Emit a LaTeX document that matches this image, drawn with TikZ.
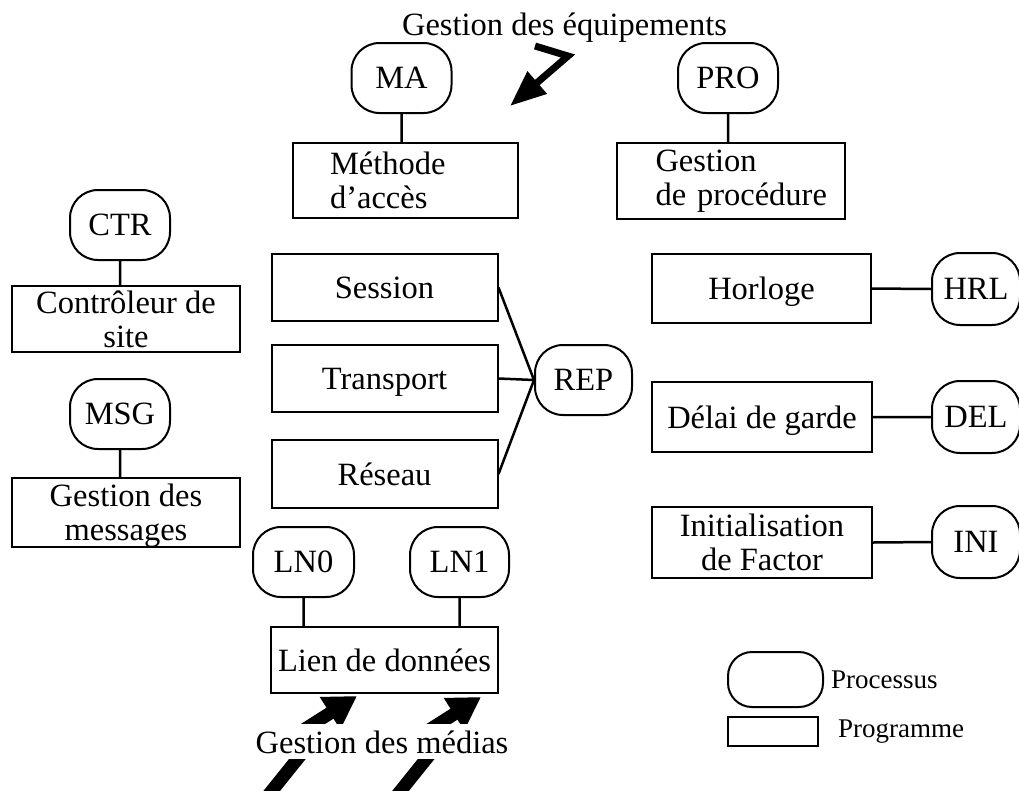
\documentclass[tikz,border=0pt]{standalone}
\usepackage{fontspec}
\setmainfont{Liberation Serif}
\usetikzlibrary{positioning,arrows.meta}

\begin{document}
\begin{tikzpicture}[x=1pt,y=-1pt,
        proc/.style={draw,line width=2pt,rounded corners=28pt,minimum width=100pt,minimum height=70pt,inner sep=0pt,font=\fontsize{32.5}{34}\selectfont},
        prog/.style={draw,line width=2pt,minimum width=226pt,minimum height=67pt,inner sep=0pt,text depth=0pt,font=\fontsize{32.5}{34}\selectfont},
        lien/.style={line width=2.5pt},
        eclair/.style={line width=7pt,line join=bevel,-{Triangle[length=36pt,width=28pt]}},
        legende/.style={font=\fontsize{27}{29}\selectfont,inner sep=0pt}]

        \useasboundingbox (0,0) rectangle (1019,790);

        % equipements
        \node[anchor=base,inner sep=0pt,font=\fontsize{32.5}{34}\selectfont] (titre) at (564.5,35) {Gestion des équipements};
        \draw[eclair,line join=miter] (535,46) -- (568,56) -- (510,106);

        \node[proc] (MA) at (401.5,78) {MA};
        \node[prog,text depth=,minimum width=225pt,minimum height=75pt,text width=151pt,align=left] (acces) at (405.5,180.5) {Méthode\\d’accès};
        \node[proc] (PRO) at (728,78) {PRO};
        \node[prog,text depth=,minimum width=228pt,minimum height=76pt,text width=151pt,align=left] (procedure) at (731,181) {Gestion\\\mbox{de procédure}};

        % colonne gauche
        \node[proc] (CTR) at (120,225) {CTR};
        \node[prog,minimum width=228pt,minimum height=66pt,align=center] (site) at (126,319) {Contrôleur de\\site};
        \node[proc] (MSG) at (120,414) {MSG};
        \node[prog,minimum width=228pt,minimum height=69pt,align=center] (messages) at (126,512.5) {Gestion des\\messages};

        % couches
        \node[prog] (session) at (384.5,287.5) {Session};
        \node[prog] (transport) at (384.5,378.5) {Transport};
        \node[prog,minimum height=68pt] (reseau) at (384.5,474) {Réseau};
        \node[proc,minimum width=97pt] (REP) at (583.5,380) {REP};

        % colonne droite
        \node[prog,minimum width=219pt,minimum height=69pt] (horloge) at (761.5,288.5) {Horloge};
        \node[proc,minimum width=88pt,minimum height=72pt] (HRL) at (976,289) {HRL};
        \node[prog,minimum width=220pt,minimum height=70pt] (garde) at (762,417) {Délai de garde};
        \node[proc,minimum width=88pt,minimum height=72pt] (DEL) at (976,417) {DEL};
        \node[prog,minimum width=220pt,minimum height=71pt,align=center] (factor) at (762,542.5) {Initialisation\\de Factor};
        \node[proc,minimum width=88pt,minimum height=72pt] (INI) at (976,542) {INI};

        % lien de donnees
        \node[proc,minimum width=101pt] (LN0) at (303.5,562) {LN0};
        \node[proc,minimum width=99pt] (LN1) at (459.5,562) {LN1};
        \node[prog,minimum width=227pt,minimum height=66pt] (donnees) at (384.5,660) {Lien de données};

        \draw[eclair,line width=13pt,-{Triangle[length=32pt,width=36pt]}] (262,803) -- (303,752) -- (272,750) -- (357,696);
        \draw[eclair,line width=13pt,-{Triangle[length=32pt,width=36pt]}] (390,804) -- (431,753) -- (396,751) -- (481,697);
        \node[anchor=base,fill=white,inner xsep=2pt,inner ysep=6pt,font=\fontsize{32.5}{34}\selectfont] (medias) at (382,753) {Gestion des médias};

        % legende
        \node[proc,minimum width=95pt,minimum height=55pt,rounded corners=24pt] (legproc) at (775.5,679.5) {};
        \node[legende,right=7pt of legproc] (processus) {Processus};
        \node[prog,minimum width=90pt,minimum height=29pt] (legprog) at (773,731.5) {};
        \node[legende,right=19pt of legprog] (programme) {Programme};

        \path[draw,lien]
        (MA.south) -- (MA.south |- acces.north)
        (PRO.south) -- (PRO.south |- procedure.north)
        (CTR.south) -- (CTR.south |- site.north)
        (MSG.south) -- (MSG.south |- messages.north)
        (session.east) -- (REP.west)
        (transport.east) -- (REP.west)
        (reseau.east) -- (REP.west)
        (horloge.east) -- (HRL.west)
        (garde.east) -- (DEL.west)
        (factor.east) -- (INI.west)
        (LN0.south) -- (LN0.south |- donnees.north)
        (LN1.south) -- (LN1.south |- donnees.north);
    \end{tikzpicture}
\end{document}
